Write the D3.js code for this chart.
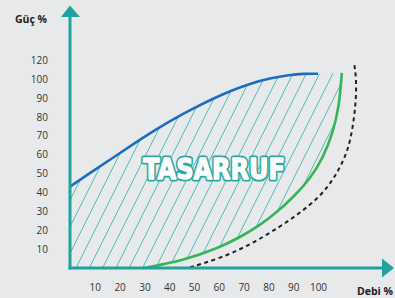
<!DOCTYPE html>
<html>
<head>
<meta charset="utf-8">
<script src="https://cdn.jsdelivr.net/npm/d3@7"></script>
<style>
  html, body { margin: 0; padding: 0; background: #e8e9eb; }
  svg { display: block; }
</style>
</head>
<body>
<svg id="chart"></svg>
<script>
// values (debi %, güç %)
var powerCurve = [[0, 43], [8, 50.3], [17, 58], [26, 66], [34, 72.8], [42, 79], [50, 84.6],
  [57, 89.2], [64.5, 93.6], [72.6, 97.6], [80.6, 100.4], [88.7, 102.2], [94, 102.8], [100, 102.8]];
var vsdCurve = [[30, 0], [45.7, 4], [59.2, 10.2], [68.5, 16.2], [76.6, 22.6], [83.3, 29.4],
  [90, 37.4], [96.8, 47.2], [102, 58.2], [106, 71.4], [108.6, 86], [109.6, 103.2]];
var idealCurve = [[48.4, 0.4], [60.5, 5.1], [72.6, 12.2], [84.7, 21.9], [92.7, 29.1], [100.8, 37.8],
  [105.5, 45.7], [109, 53.5], [112.1, 62.4], [114.1, 74.6], [115.3, 88], [115.5, 100], [114.5, 109]];
var xTicks = [10, 20, 30, 40, 50, 60, 70, 80, 90, 100];
var yTicks = [10, 20, 30, 40, 50, 60, 70, 80, 90, 100, 110];
var yTickLabels = ["10", "20", "30", "40", "50", "60", "70", "80", "90", "100", "120"];

var svgWidth = 395, svgHeight = 298;
var teal = "#1fa39d";

var svg = d3.select("#chart")
    .attr("width", svgWidth)
    .attr("height", svgHeight);

var x = d3.scaleLinear().domain([0, 100]).range([70, 318]);
var y = d3.scaleLinear().domain([0, 100]).range([268, 79]);

var line = d3.line()
    .x(function(d) { return x(d[0]); })
    .y(function(d) { return y(d[1]); })
    .curve(d3.curveBasis);

// saving area: under blue, left of green
var topEdge = line(powerCurve);
var rightEdge = line(vsdCurve.slice().reverse());
svg.append("clipPath").attr("id", "saveClip")
  .append("path")
    .attr("d", topEdge + "L" + rightEdge.slice(1) + "L" + x(0) + "," + y(0) + "Z");

var hatch = svg.append("g").attr("clip-path", "url(#saveClip)");
for (var i = -10; i < 30; i++) {
  var x0 = 75 + i * 13.3;
  hatch.append("line")
    .attr("x1", x0).attr("y1", 270)
    .attr("x2", x0 + 110).attr("y2", 50)
    .attr("stroke", "#3ab7b5")
    .attr("stroke-width", 0.9);
}

svg.append("path")
    .datum(idealCurve)
    .attr("fill", "none")
    .attr("stroke", "#222")
    .attr("stroke-width", 2)
    .attr("stroke-dasharray", "4,3.5")
    .attr("d", line);

svg.append("path")
    .datum(vsdCurve)
    .attr("fill", "none")
    .attr("stroke", "#35b557")
    .attr("stroke-width", 2.6)
    .attr("d", line);

svg.append("path")
    .datum(powerCurve)
    .attr("fill", "none")
    .attr("stroke", "#1a6ebd")
    .attr("stroke-width", 2.6)
    .attr("d", line);

// axes
svg.append("line")
    .attr("x1", 70).attr("y1", 269.5).attr("x2", 70).attr("y2", 15)
    .attr("stroke", teal).attr("stroke-width", 3);
svg.append("path")
    .attr("d", "M61,17L70,5.5L80,17Z")
    .attr("fill", teal);
svg.append("line")
    .attr("x1", 68.5).attr("y1", 268).attr("x2", 384).attr("y2", 268)
    .attr("stroke", teal).attr("stroke-width", 3);
svg.append("path")
    .attr("d", "M382,258.5L394,268L382,277.5Z")
    .attr("fill", teal);

var font = "'Open Sans', 'DejaVu Sans', sans-serif";

var yAxis = svg.append("g")
    .attr("transform", "translate(48,0)")
    .call(d3.axisLeft(y).tickValues(yTicks).tickSize(0)
      .tickFormat(function(d, i) { return yTickLabels[i]; }));
yAxis.select(".domain").remove();
yAxis.selectAll("text")
    .attr("x", 0)
    .attr("font-family", font)
    .attr("font-size", 10)
    .attr("fill", "#333");

var xAxis = svg.append("g")
    .attr("transform", "translate(0,284)")
    .call(d3.axisBottom(x).tickValues(xTicks).tickSize(0));
xAxis.select(".domain").remove();
xAxis.selectAll("text")
    .attr("y", 0)
    .attr("dy", "0.71em")
    .attr("font-family", font)
    .attr("font-size", 10)
    .attr("fill", "#333");

svg.append("text")
    .attr("x", 47).attr("y", 23)
    .attr("text-anchor", "end")
    .attr("font-family", font)
    .attr("font-weight", "bold")
    .attr("font-size", 10.5)
    .attr("fill", "#222")
    .text("Güç %");

svg.append("text")
    .attr("x", 393).attr("y", 295)
    .attr("text-anchor", "end")
    .attr("font-family", font)
    .attr("font-weight", "bold")
    .attr("font-size", 10.5)
    .attr("fill", "#222")
    .text("Debi %");

// label: teal outline, then white thickened glyphs on top
[["#2aa9a4", 5], ["#fff", 1.3]].forEach(function(s) {
  svg.append("text")
      .attr("x", 143).attr("y", 179)
      .attr("textLength", 142)
      .attr("lengthAdjust", "spacingAndGlyphs")
      .attr("font-family", "'DejaVu Sans', sans-serif")
      .attr("font-weight", "bold")
      .attr("font-size", 28)
      .attr("fill", "#fff")
      .attr("stroke", s[0])
      .attr("stroke-width", s[1])
      .attr("stroke-linejoin", "round")
      .text("TASARRUF");
});
</script>
</body>
</html>
